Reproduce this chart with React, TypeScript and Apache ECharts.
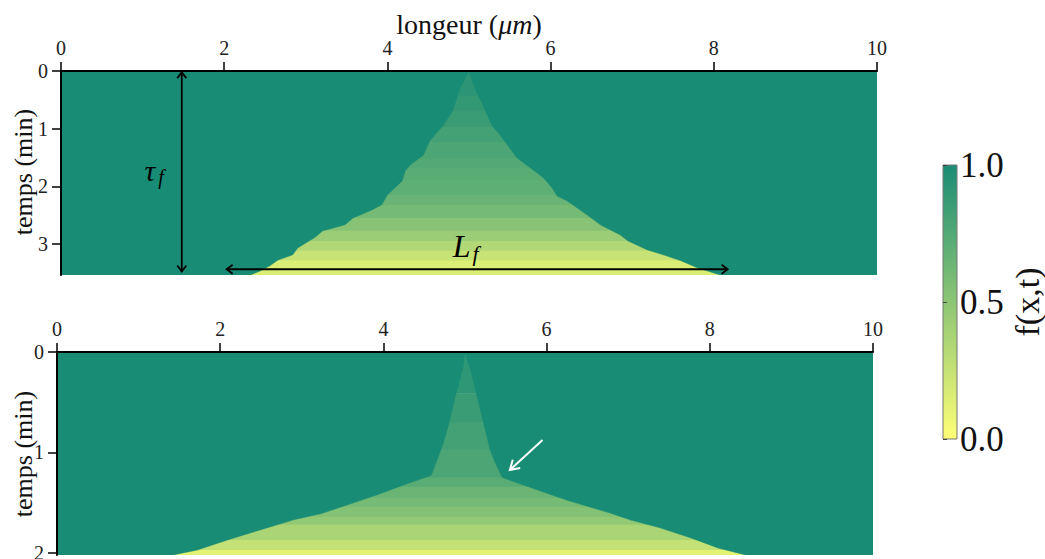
import { useEffect, useRef } from "react";
import * as echarts from "echarts";

const FONT = "Liberation Serif";

// ---------- axes ----------
const xMin = 0;
const xMax = 10;
const xInterval = 2;
const topTMax = 3.54;
const bottomTMax = 2.02;
const topTTicks = [0, 1, 2, 3];
const bottomTTicks = [0, 1, 2];
const colorbarTicks = [0, 0.5, 1];
const xAxisTitle = "longeur (";
const xAxisUnit = "μm";
const yAxisTitle = "temps (min)";
const colorbarTitle = "f(x,t)";

// ---------- top panel: front edges [x (µm), t (min)] ----------
const topLeftEdge: number[][] = [
  [5.0, 0.0], [4.89, 0.29], [4.8, 0.69], [4.68, 0.95], [4.52, 1.21], [4.44, 1.46],
  [4.28, 1.63], [4.22, 1.73], [4.18, 1.91], [4.0, 2.15], [3.93, 2.32], [3.81, 2.41],
  [3.58, 2.55], [3.48, 2.67], [3.21, 2.77], [3.11, 2.89], [2.9, 3.07], [2.84, 3.19],
  [2.66, 3.28], [2.56, 3.38], [2.44, 3.47], [2.32, 3.54],
];
const topRightEdge: number[][] = [
  [5.0, 0.0], [5.07, 0.29], [5.17, 0.59], [5.28, 0.94], [5.38, 1.11], [5.47, 1.28],
  [5.59, 1.51], [5.75, 1.68], [5.91, 1.85], [6.02, 2.03], [6.08, 2.17], [6.2, 2.25],
  [6.45, 2.5], [6.61, 2.67], [6.85, 2.84], [6.95, 2.95], [7.18, 3.1], [7.38, 3.19],
  [7.59, 3.29], [7.79, 3.41], [7.99, 3.5], [8.08, 3.54],
];
const topBandStart = [0, 0.43, 0.69, 0.97, 1.23, 1.51, 1.68, 1.89, 2.15, 2.32, 2.55, 2.77, 2.95, 3.12, 3.29];
const topBandF = [0.92, 0.89, 0.86, 0.82, 0.78, 0.75, 0.72, 0.7, 0.66, 0.6, 0.52, 0.44, 0.34, 0.24, 0.16];

// ---------- bottom panel ----------
const bottomLeftEdge: number[][] = [
  [5.0, 0.0], [4.97, 0.18], [4.9, 0.38], [4.84, 0.58], [4.78, 0.78], [4.72, 0.94],
  [4.66, 1.07], [4.6, 1.2], [4.58, 1.23], [4.29, 1.31], [3.96, 1.41], [3.6, 1.51],
  [3.23, 1.61], [2.9, 1.67], [2.49, 1.77], [2.09, 1.87], [1.72, 1.97], [1.42, 2.02],
];
const bottomRightEdge: number[][] = [
  [5.0, 0.0], [5.07, 0.18], [5.13, 0.38], [5.19, 0.58], [5.25, 0.78], [5.31, 0.98],
  [5.37, 1.1], [5.44, 1.22], [5.46, 1.25], [5.81, 1.35], [6.27, 1.48], [6.77, 1.6],
  [7.02, 1.67], [7.39, 1.75], [7.77, 1.85], [8.1, 1.95], [8.44, 2.02],
];
const bottomBandStart = [0, 0.41, 0.7, 0.97, 1.25, 1.34, 1.45, 1.54, 1.64, 1.72, 1.87, 1.97];
const bottomBandF = [0.91, 0.86, 0.82, 0.78, 0.72, 0.65, 0.6, 0.54, 0.47, 0.37, 0.26, 0.12];

// ---------- annotations ----------
const tauArrow = [1.48, 0.02, 1.48, 3.48];
const lfArrow = [2.03, 3.44, 8.17, 3.44];
const whiteArrow = [5.95, 0.876, 5.55, 1.174];
const topLabels = [
  { x: 1.09, t: 1.72, main: "τ", sub: "f", size: 30, dx: 11, dy: 7 },
  { x: 4.91, t: 3.03, main: "L", sub: "f", size: 32, dx: 14, dy: 8 },
];

function summer(f: number): string {
  const a = 0.9;
  const r = Math.round(a * 255 * (1 - f) + (1 - a) * 255);
  const g = Math.round(a * 255 * (1 - 0.5 * f) + (1 - a) * 255);
  const b = Math.round(a * 102 + (1 - a) * 255);
  return `rgb(${r},${g},${b})`;
}

function arrowShapes(p0: number[], p1: number[], color: string, width: number, both: boolean, hl: number, hw: number) {
  const dx = p1[0] - p0[0];
  const dy = p1[1] - p0[1];
  const L = Math.hypot(dx, dy) || 1;
  const ux = dx / L, uy = dy / L, nx = -uy, ny = ux;
  const chevron = (tip: number[], dir: number) => ({
    type: "polyline",
    shape: {
      points: [
        [tip[0] - dir * ux * hl + nx * hw, tip[1] - dir * uy * hl + ny * hw],
        [tip[0], tip[1]],
        [tip[0] - dir * ux * hl - nx * hw, tip[1] - dir * uy * hl - ny * hw],
      ],
    },
    style: { stroke: color, lineWidth: width, fill: null },
  });
  const children: any[] = [
    { type: "line", shape: { x1: p0[0], y1: p0[1], x2: p1[0], y2: p1[1] }, style: { stroke: color, lineWidth: width } },
    chevron(p1, 1),
  ];
  if (both) children.push(chevron(p0, -1));
  return { type: "group", children };
}

function bandsSeries(gi: number, starts: number[], fs: number[], tMax: number) {
  return {
    type: "custom",
    xAxisIndex: gi,
    yAxisIndex: gi,
    clip: true,
    z: 1,
    data: starts.map((t0, i) => [t0, i + 1 < starts.length ? starts[i + 1] : tMax, fs[i]]),
    encode: { x: -1, y: [0, 1] },
    renderItem: (params: any, api: any) => {
      const p0 = api.coord([xMin, api.value(0)]);
      const p1 = api.coord([xMax, api.value(1)]);
      return {
        type: "rect",
        shape: { x: p0[0], y: p0[1], width: p1[0] - p0[0], height: p1[1] - p0[1] + 0.6 },
        style: { fill: summer(api.value(2)) },
      };
    },
  };
}

function outsideSeries(gi: number, left: number[][], right: number[][], tMax: number) {
  return {
    type: "custom",
    xAxisIndex: gi,
    yAxisIndex: gi,
    clip: true,
    z: 2,
    data: [[xMin, 0], [xMax, 0]],
    renderItem: (params: any, api: any) => {
      const edge = params.dataIndex === 0 ? left : right;
      const cx = api.value(0);
      const pts = [api.coord([cx, 0]), ...edge.map((p) => api.coord(p)), api.coord([cx, tMax])];
      return { type: "polygon", shape: { points: pts }, style: { fill: summer(1), stroke: summer(1), lineWidth: 0.5 } };
    },
  };
}

function xAxisCfg(gi: number) {
  return {
    type: "value",
    gridIndex: gi,
    position: "top",
    min: xMin,
    max: xMax,
    interval: xInterval,
    z: 10,
    axisLine: { show: true, lineStyle: { color: "#000", width: 2 } },
    axisTick: { show: true, inside: false, length: 9, lineStyle: { color: "#000", width: 1.5 } },
    axisLabel: { fontSize: 20, color: "#222", margin: 13, fontFamily: FONT },
    splitLine: { show: false },
  };
}

function yAxisCfg(gi: number, tMax: number, ticks: number[]) {
  return {
    type: "value",
    gridIndex: gi,
    inverse: true,
    min: 0,
    max: tMax,
    z: 10,
    axisLine: { show: true, lineStyle: { color: "#000", width: 2 } },
    axisTick: { show: true, inside: false, length: 9, customValues: ticks, lineStyle: { color: "#000", width: 1.5 } },
    axisLabel: { fontSize: 20, color: "#222", margin: 13, customValues: ticks, fontFamily: FONT },
    splitLine: { show: false },
  };
}

function titleText(text: string, x: number, y: number, size: number, rotated: boolean, italic = false) {
  return {
    type: "text",
    x,
    y,
    rotation: rotated ? Math.PI / 2 : 0,
    silent: true,
    style: {
      text,
      fontSize: size,
      fontFamily: FONT,
      fontStyle: italic ? "italic" : "normal",
      fill: "#111",
      align: "center",
      verticalAlign: "middle",
    },
  };
}

export default function App() {
  const ref = useRef<HTMLDivElement>(null);
  useEffect(() => {
    if (!ref.current) return;
    const chart = echarts.init(ref.current, null, { renderer: "svg" });
    const option: any = {
      animation: false,
      backgroundColor: "#fff",
      textStyle: { fontFamily: FONT },
      grid: [
        { left: 61, top: 71, width: 816, height: 204, containLabel: false, outerBoundsMode: "none" },
        { left: 57, top: 352, width: 816, height: 203, containLabel: false, outerBoundsMode: "none" },
        { left: 943, top: 165, width: 14, height: 274, containLabel: false, outerBoundsMode: "none" },
      ],
      xAxis: [xAxisCfg(0), xAxisCfg(1), { type: "value", gridIndex: 2, min: 0, max: 1, show: false }],
      yAxis: [
        yAxisCfg(0, topTMax, topTTicks),
        yAxisCfg(1, bottomTMax, bottomTTicks),
        {
          type: "value",
          gridIndex: 2,
          position: "right",
          min: 0,
          max: 1,
          interval: 0.5,
          z: 10,
          axisLine: { show: false },
          axisTick: { show: true, length: 4, customValues: colorbarTicks, lineStyle: { color: "#444", width: 1 } },
          axisLabel: {
            fontSize: 35,
            color: "#111",
            margin: 3,
            customValues: colorbarTicks,
            fontFamily: FONT,
            formatter: (v: number) => v.toFixed(1),
          },
          splitLine: { show: false },
        },
      ],
      graphic: [
        {
          type: "group",
          x: 469,
          y: 24,
          children: [
            {
              type: "text",
              x: 0,
              y: 0,
              style: {
                rich: {
                  n: { fontSize: 28, fontFamily: FONT, fill: "#111" },
                  i: { fontSize: 28, fontFamily: FONT, fontStyle: "italic", fill: "#111" },
                },
                text: `{n|${xAxisTitle}}{i|${xAxisUnit}}{n|)}`,
                align: "center",
                verticalAlign: "middle",
                fill: "#111",
                fontSize: 28,
                fontFamily: FONT,
              },
            },
          ],
        },
        titleText(yAxisTitle, 23, 172, 26, true),
        titleText(yAxisTitle, 23, 454, 26, true),
        titleText(colorbarTitle, 1027, 302, 34, true),
      ],
      series: [
        bandsSeries(0, topBandStart, topBandF, topTMax),
        outsideSeries(0, topLeftEdge, topRightEdge, topTMax),
        bandsSeries(1, bottomBandStart, bottomBandF, bottomTMax),
        outsideSeries(1, bottomLeftEdge, bottomRightEdge, bottomTMax),
        {
          type: "custom",
          xAxisIndex: 0,
          yAxisIndex: 0,
          clip: false,
          z: 5,
          data: [tauArrow, lfArrow],
          renderItem: (params: any, api: any) => {
            const p0 = api.coord([api.value(0), api.value(1)]);
            const p1 = api.coord([api.value(2), api.value(3)]);
            return arrowShapes(p0, p1, "#000", 1.8, true, 6, 4.5);
          },
        },
        {
          type: "custom",
          xAxisIndex: 0,
          yAxisIndex: 0,
          clip: false,
          z: 6,
          data: topLabels.map((l) => [l.x, l.t]),
          renderItem: (params: any, api: any) => {
            const l = topLabels[params.dataIndex];
            const p = api.coord([api.value(0), api.value(1)]);
            return {
              type: "group",
              children: [
                {
                  type: "text",
                  x: p[0],
                  y: p[1],
                  style: {
                    text: l.main,
                    fontSize: l.size,
                    fontStyle: "italic",
                    fontFamily: FONT,
                    fill: "#000",
                    align: "center",
                    verticalAlign: "middle",
                  },
                },
                {
                  type: "text",
                  x: p[0] + l.dx,
                  y: p[1] + l.dy,
                  style: {
                    text: l.sub,
                    fontSize: Math.round(l.size * 0.68),
                    fontStyle: "italic",
                    fontFamily: FONT,
                    fill: "#000",
                    align: "center",
                    verticalAlign: "middle",
                  },
                },
              ],
            };
          },
        },
        {
          type: "custom",
          xAxisIndex: 1,
          yAxisIndex: 1,
          clip: false,
          z: 5,
          data: [whiteArrow],
          renderItem: (params: any, api: any) => {
            const p0 = api.coord([api.value(0), api.value(1)]);
            const p1 = api.coord([api.value(2), api.value(3)]);
            return arrowShapes(p0, p1, "#fff", 2, false, 9, 5.5);
          },
        },
        {
          type: "custom",
          xAxisIndex: 2,
          yAxisIndex: 2,
          clip: false,
          z: 3,
          data: [[0, colorbarTicks[colorbarTicks.length - 1], 1, colorbarTicks[0]]],
          renderItem: (params: any, api: any) => {
            const p0 = api.coord([api.value(0), api.value(1)]);
            const p1 = api.coord([api.value(2), api.value(3)]);
            return {
              type: "rect",
              shape: { x: p0[0], y: p0[1], width: p1[0] - p0[0], height: p1[1] - p0[1] },
              style: {
                fill: new echarts.graphic.LinearGradient(0, 0, 0, 1, [
                  { offset: 0, color: summer(api.value(1)) },
                  { offset: 1, color: summer(api.value(3)) },
                ]),
                stroke: "#777",
                lineWidth: 1,
              },
            };
          },
        },
      ],
    };
    chart.setOption(option);
    return () => chart.dispose();
  }, []);
  return (
    <div
      ref={ref}
      style={{ position: "fixed", left: 0, top: 0, width: 1045, height: 559, background: "#fff" }}
    />
  );
}
